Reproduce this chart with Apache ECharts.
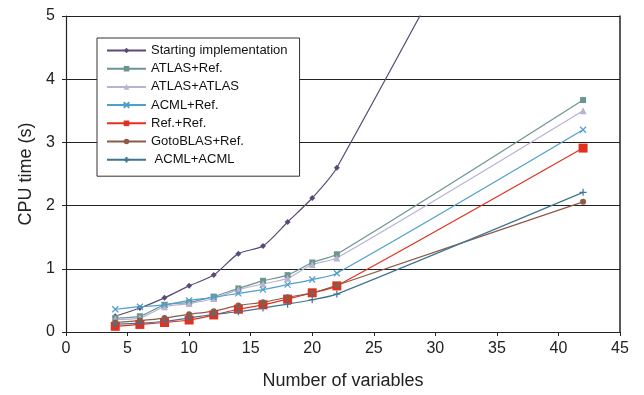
<!DOCTYPE html>
<html>
<head>
<meta charset="utf-8">
<script src="https://cdn.jsdelivr.net/npm/echarts@6/dist/echarts.min.js"></script>
<style>
  html, body { margin: 0; padding: 0; background: #fff; }
  #chart { width: 644px; height: 395px; }
</style>
</head>
<body>
<div id="chart"></div>
<script>
// number of variables
const nVars = [4, 6, 8, 10, 12, 14, 16, 18, 20, 22, 42];

// CPU time (s)
const startingImpl = [0.25, 0.38, 0.54, 0.73, 0.90, 1.24, 1.36, 1.74, 2.12, 2.60, 9.8];
const atlasRef     = [0.22, 0.25, 0.43, 0.47, 0.56, 0.69, 0.81, 0.90, 1.10, 1.23, 3.67];
const atlasAtlas   = [0.20, 0.22, 0.40, 0.45, 0.53, 0.67, 0.76, 0.85, 1.07, 1.17, 3.50];
const acmlRef      = [0.36, 0.40, 0.43, 0.50, 0.55, 0.61, 0.67, 0.75, 0.83, 0.93, 3.20];
const refRef       = [0.09, 0.12, 0.15, 0.19, 0.27, 0.36, 0.43, 0.52, 0.62, 0.73, 2.91];
const gotoRef      = [0.15, 0.18, 0.22, 0.28, 0.33, 0.42, 0.47, 0.55, 0.62, 0.74, 2.06];
const acmlAcml     = [0.12, 0.14, 0.17, 0.22, 0.28, 0.32, 0.38, 0.44, 0.51, 0.60, 2.21];

const FONT = '"Liberation Sans", Arial, sans-serif';
const CROSS = 'path://M0,0L10,10M10,0L0,10';
const PLUS = 'path://M5,0L5,10M0,5L10,5';

function pairs(values) {
  return nVars.map((x, i) => [x, values[i]]);
}

function makeSeries(name, values, color, symbol, size, stroked) {
  return {
    name,
    type: 'line',
    data: pairs(values),
    smooth: 0.25,
    symbol,
    symbolSize: size,
    showSymbol: true,
    clip: true,
    lineStyle: { color, width: 1.2 },
    itemStyle: stroked
      ? { color: 'none', borderColor: color, borderWidth: 1.2 }
      : { color, borderColor: color, borderWidth: 0 },
    emphasis: { disabled: true },
  };
}

const chart = echarts.init(document.getElementById('chart'), null, { renderer: 'canvas' });

chart.setOption({
  animation: false,
  backgroundColor: '#fff',
  textStyle: { fontFamily: FONT },
  grid: { left: 66, top: 16, width: 554, height: 319, show: false },
  legend: {
    orient: 'vertical',
    left: 97,
    top: 38,
    padding: [5, 12, 9, 9],
    itemWidth: 39,
    itemHeight: 7,
    itemGap: 3.2,
    backgroundColor: '#fff',
    borderColor: '#333',
    borderWidth: 1,
    textStyle: { fontFamily: FONT, fontSize: 13, color: '#111', lineHeight: 15 },
  },
  xAxis: {
    type: 'value',
    min: 0,
    max: 45,
    interval: 5,
    name: 'Number of variables',
    nameLocation: 'middle',
    nameGap: 40,
    nameTextStyle: { fontFamily: FONT, fontSize: 18, color: '#222' },
    axisLine: { show: true, lineStyle: { color: '#222', width: 1 } },
    axisTick: { show: true, length: 4, lineStyle: { color: '#222' } },
    axisLabel: { fontFamily: FONT, fontSize: 16, color: '#222', margin: 9 },
    splitLine: { show: false },
  },
  yAxis: [
    {
      type: 'value',
      min: 0,
      max: 5,
      interval: 1,
      name: 'CPU time (s)',
      nameLocation: 'middle',
      nameGap: 31,
      nameTextStyle: { fontFamily: FONT, fontSize: 18, color: '#222' },
      axisLine: { show: true, lineStyle: { color: '#222', width: 1.2 } },
      axisTick: { show: true, length: 4, lineStyle: { color: '#222' } },
      axisLabel: { fontFamily: FONT, fontSize: 16, color: '#222', margin: 11 },
      splitLine: { show: true, lineStyle: { color: '#222', width: 1.2 } },
    },
    {
      // right-hand frame line
      type: 'value',
      position: 'right',
      min: 0,
      max: 5,
      interval: 1,
      axisLine: { show: true, lineStyle: { color: '#222', width: 1.5 } },
      axisTick: { show: false },
      axisLabel: { show: false },
      splitLine: { show: false },
    },
  ],
  series: [
    makeSeries('Starting implementation', startingImpl, '#5b4a78', 'diamond', 6, false),
    makeSeries('ATLAS+Ref.', atlasRef, '#6b9690', 'rect', 6, false),
    makeSeries('ATLAS+ATLAS', atlasAtlas, '#b9b2d2', 'triangle', 7, false),
    makeSeries('ACML+Ref.', acmlRef, '#4f9fcc', CROSS, 6, true),
    makeSeries('Ref.+Ref.', refRef, '#e2311f', 'rect', 9, false),
    makeSeries('GotoBLAS+Ref.', gotoRef, '#8d5a48', 'circle', 6, false),
    makeSeries(' ACML+ACML', acmlAcml, '#3e7593', PLUS, 7, true),
  ],
});
</script>
</body>
</html>
